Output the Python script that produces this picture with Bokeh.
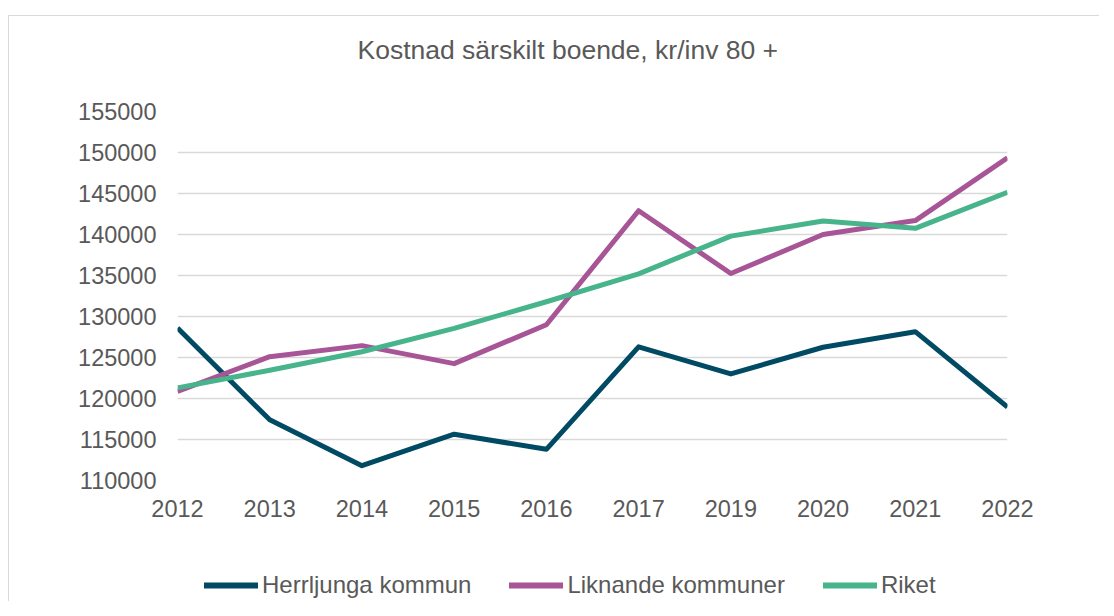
from bokeh.plotting import figure
from bokeh.layouts import column
from bokeh.models import FixedTicker, NumeralTickFormatter, Legend, LegendItem, Range1d, Title
from bokeh.embed import file_html
from bokeh.resources import INLINE

years = ["2012", "2013", "2014", "2015", "2016", "2017", "2019", "2020", "2021", "2022"]
herrljunga = [128600, 117400, 111800, 115650, 113800, 126300, 123000, 126250, 128150, 118950]
liknande = [120850, 125100, 126450, 124250, 129000, 142900, 135250, 140000, 141700, 149350]
riket = [121300, 123450, 125700, 128550, 131800, 135200, 139800, 141650, 140750, 145150]
y_ticks = [110000, 115000, 120000, 125000, 130000, 135000, 140000, 145000, 150000, 155000]

series = [
    ("Herrljunga kommun", herrljunga, "#004B63"),
    ("Liknande kommuner", liknande, "#A75596"),
    ("Riket", riket, "#47B48C"),
]

FONT = "Liberation Sans"
TXT = "#595959"

p = figure(width=1090, height=545, output_backend="svg", toolbar_location=None,
           x_range=Range1d(0, len(years) - 1), y_range=Range1d(y_ticks[0], y_ticks[-1]),
           min_border_left=168, min_border_right=92, min_border_top=95, min_border_bottom=81)
p.outline_line_color = None
p.background_fill_color = "white"
p.border_fill_color = "white"
p.title.text = ""
p.title.visible = False

# spacer between frame and title, then the title (outer)
p.add_layout(Title(text=" ", text_font_size="10px", standoff=29), "above")
p.add_layout(Title(text="Kostnad särskilt boende, kr/inv 80 +", text_font=FONT,
                   text_font_size="26.5px", text_font_style="normal", text_color=TXT,
                   align="left", offset=180, standoff=10), "above")

xs = list(range(len(years)))
for name, vals, col in series:
    p.line(xs, vals, line_color=col, line_width=5, line_join="round")

p.xaxis.ticker = FixedTicker(ticks=xs)
p.xaxis.major_label_overrides = {i: y for i, y in enumerate(years)}
p.yaxis.ticker = FixedTicker(ticks=y_ticks)
p.yaxis.formatter = NumeralTickFormatter(format="0")
for ax in (p.xaxis[0], p.yaxis[0]):
    ax.axis_line_color = None
    ax.major_tick_line_color = None
    ax.minor_tick_line_color = None
    ax.major_tick_out = 0
    ax.major_tick_in = 0
    ax.minor_tick_out = 0
    ax.minor_tick_in = 0
    ax.major_label_text_font = FONT
    ax.major_label_text_font_size = "23.5px"
    ax.major_label_text_color = TXT
p.xaxis.major_label_standoff = 19
p.yaxis.major_label_standoff = 21

p.xgrid.grid_line_color = None
p.ygrid.grid_line_color = "#d9d9d9"
p.ygrid.grid_line_width = 1.5

# legend strip below the chart (its frame is aligned with the chart's frame)
lg = figure(width=1090, height=40, output_backend="svg", toolbar_location=None,
            x_range=Range1d(0, 1), y_range=Range1d(0, 1),
            x_axis_type=None, y_axis_type=None,
            min_border_left=168, min_border_right=92, min_border_top=0, min_border_bottom=0)
lg.outline_line_color = None
lg.grid.visible = False
lg.title.visible = False
nan = float("nan")
items = []
for name, vals, col in series:
    r = lg.line(x=[nan, nan], y=[nan, nan], line_color=col, line_width=6, line_cap="round")
    items.append(LegendItem(label=name, renderers=[r]))
legend = Legend(items=items, orientation="horizontal", location=(27, 2),
                padding=0, margin=0, spacing=38, label_standoff=4,
                glyph_width=54, glyph_height=24, label_height=24,
                border_line_color=None, background_fill_alpha=0,
                label_text_font=FONT, label_text_font_size="24px", label_text_color=TXT)
lg.add_layout(legend, "center")

layout = column(p, lg, spacing=0)
layout.margin = (15, 0, 0, 8)
layout.styles = {"border-top": "1px solid #d9d9d9", "border-left": "1px solid #d9d9d9"}

open("out.html", "w").write(file_html(layout, INLINE))
